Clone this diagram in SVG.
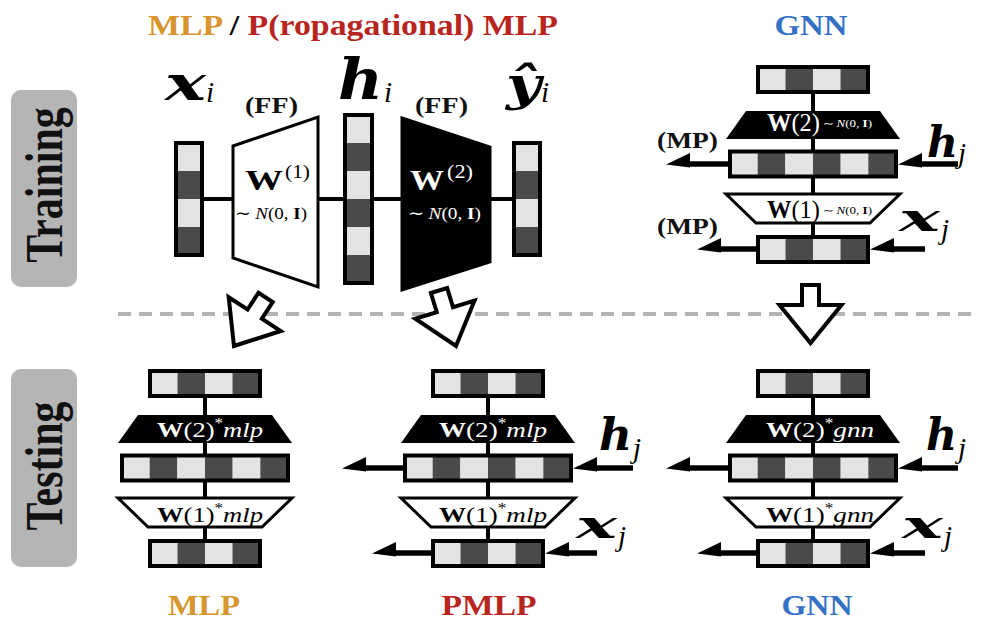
<svg xmlns="http://www.w3.org/2000/svg" width="981" height="620" viewBox="0 0 981 620">
<style>
.ttl{font-family:"Liberation Serif","Times New Roman",serif;font-weight:bold;font-size:29px}
.orange{fill:#D9962F}
.red{fill:#B8241E}
.blue{fill:#3470C4}
.phase{font-family:"Liberation Serif","Times New Roman",serif;font-weight:bold;font-size:42px;fill:#111}
.tag{font-family:"Liberation Serif","Times New Roman",serif;font-weight:bold;font-size:23px;fill:#111}
.mathb{font-family:"DejaVu Serif",serif;font-weight:bold;font-style:italic;fill:#000}
.sub{font-family:"Liberation Serif","Times New Roman",serif;font-style:italic;font-size:29px;fill:#000}
.w{font-family:"Liberation Serif","Times New Roman",serif;fill:#000}
.wt{fill:#fff}
.lt{fill:#E3E3E3}
.dk{fill:#4A4A4A}
.frame{fill:none;stroke:#000;stroke-width:4}
.link{stroke:#000;stroke-width:4;fill:none}
.mp{stroke:#000;stroke-width:5.5;fill:none}
.hollow{fill:#fff;stroke:#000;stroke-width:4;stroke-linejoin:miter}
.box{fill:#B5B5B5}
</style>
<defs>
  <!-- horizontal feature bars -->
  <g id="bar4">
    <rect class="lt" x="-55" y="0" width="27.5" height="25"/>
    <rect class="dk" x="-27.5" y="0" width="27.5" height="25"/>
    <rect class="lt" x="0" y="0" width="27.5" height="25"/>
    <rect class="dk" x="27.5" y="0" width="27.5" height="25"/>
    <rect class="frame" x="-55" y="0" width="110" height="25"/>
  </g>
  <g id="bar6">
    <rect class="lt" x="-83" y="0" width="27.67" height="25"/>
    <rect class="dk" x="-55.33" y="0" width="27.67" height="25"/>
    <rect class="lt" x="-27.67" y="0" width="27.67" height="25"/>
    <rect class="dk" x="0" y="0" width="27.67" height="25"/>
    <rect class="lt" x="27.67" y="0" width="27.67" height="25"/>
    <rect class="dk" x="55.33" y="0" width="27.67" height="25"/>
    <rect class="frame" x="-83" y="0" width="166" height="25"/>
  </g>
  <!-- vertical feature bars -->
  <g id="vbar4">
    <rect class="lt" x="0" y="0" width="26" height="28"/>
    <rect class="dk" x="0" y="28" width="26" height="28"/>
    <rect class="lt" x="0" y="56" width="26" height="28"/>
    <rect class="dk" x="0" y="84" width="26" height="28"/>
    <rect class="frame" x="0" y="0" width="26" height="112"/>
  </g>
  <g id="vbar6">
    <rect class="lt" x="0" y="0" width="27" height="28"/>
    <rect class="dk" x="0" y="28" width="27" height="28"/>
    <rect class="lt" x="0" y="56" width="27" height="28"/>
    <rect class="dk" x="0" y="84" width="27" height="28"/>
    <rect class="lt" x="0" y="112" width="27" height="28"/>
    <rect class="dk" x="0" y="140" width="27" height="28"/>
    <rect class="frame" x="0" y="0" width="27" height="168"/>
  </g>
  <polygon id="trapB" points="-67,46 67,46 87,74 -87,74" fill="#000"/>
  <polygon id="trapW" points="-87,129 87,129 57,158 -57,158" fill="#fff" stroke="#000" stroke-width="3"/>
  <!-- two-layer stack: bar / W(2) / bar / W(1) / bar -->
  <g id="stack">
    <use href="#bar4" y="2"/>
    <use href="#trapB"/>
    <use href="#bar6" y="86.5"/>
    <use href="#trapW"/>
    <use href="#bar4" y="172"/>
  </g>
  <path id="hp" d="M0,0.5 L24,-11 L24,3.5 Z" fill="#000"/>
  <polygon id="hollow" class="hollow" points="-8.5,-58 8.5,-58 8.5,-38 31,-38 0,0 -31,-38 -8.5,-38"/>
</defs>

<rect width="981" height="620" fill="#fff"/>

<!-- phase separator -->
<line x1="118" y1="314" x2="972" y2="314" stroke="#B3B3B3" stroke-width="4" stroke-dasharray="13 8"/>

<!-- phase labels -->
<g id="training-label">
  <rect class="box" x="11" y="90" width="66" height="197" rx="10"/>
  <text class="phase" text-anchor="middle" transform="translate(62,185) scale(1.27,1) rotate(-90)">Training</text>
</g>
<g id="testing-label">
  <rect class="box" x="11" y="369" width="66" height="198" rx="10"/>
  <text class="phase" text-anchor="middle" transform="translate(62,466) scale(1.27,1) rotate(-90)">Testing</text>
</g>

<!-- headings -->
<g id="title-mlp">
  <text class="ttl" x="148" y="35" textLength="410" lengthAdjust="spacingAndGlyphs"><tspan class="orange">MLP</tspan><tspan fill="#000"> / </tspan><tspan class="red">P(ropagational) MLP</tspan></text>
</g>
<g id="title-gnn">
  <text class="ttl blue" x="811" y="35" text-anchor="middle" textLength="73" lengthAdjust="spacingAndGlyphs">GNN</text>
</g>

<!-- connectors -->
<g id="connectors">
  <!-- feed-forward chain -->
  <line class="link" x1="202" y1="199" x2="234" y2="199"/>
  <line class="link" x1="317" y1="199" x2="346" y2="199"/>
  <line class="link" x1="371" y1="199" x2="403" y2="199"/>
  <line class="link" x1="489" y1="199" x2="515" y2="199"/>
  <!-- stack spines -->
  <line class="link" x1="813" y1="85" x2="813" y2="240"/>
  <line class="link" x1="205" y1="389" x2="205" y2="544"/>
  <line class="link" x1="488" y1="389" x2="488" y2="544"/>
  <line class="link" x1="813" y1="389" x2="813" y2="544"/>
  <!-- message passing, GNN training -->
  <line class="mp" x1="728" y1="164" x2="688" y2="164"/><use href="#hp" x="666" y="164"/>
  <line class="mp" x1="958" y1="164" x2="920" y2="164"/><use href="#hp" x="898" y="164"/>
  <line class="mp" x1="756" y1="249" x2="719" y2="249"/><use href="#hp" x="697" y="249"/>
  <line class="mp" x1="925" y1="249" x2="892" y2="249"/><use href="#hp" x="870" y="249"/>
  <!-- message passing, PMLP testing -->
  <line class="mp" x1="403" y1="468" x2="364" y2="468"/><use href="#hp" x="342" y="468"/>
  <line class="mp" x1="633" y1="468" x2="595" y2="468"/><use href="#hp" x="573" y="468"/>
  <line class="mp" x1="431" y1="553" x2="394" y2="553"/><use href="#hp" x="372" y="553"/>
  <line class="mp" x1="597" y1="553" x2="567" y2="553"/><use href="#hp" x="545" y="553"/>
  <!-- message passing, GNN testing -->
  <line class="mp" x1="728" y1="468" x2="688" y2="468"/><use href="#hp" x="666" y="468"/>
  <line class="mp" x1="958" y1="468" x2="920" y2="468"/><use href="#hp" x="898" y="468"/>
  <line class="mp" x1="756" y1="553" x2="719" y2="553"/><use href="#hp" x="697" y="553"/>
  <line class="mp" x1="925" y1="553" x2="892" y2="553"/><use href="#hp" x="870" y="553"/>
  <!-- training to testing -->
  <use href="#hollow" transform="translate(234,346) rotate(33)"/>
  <use href="#hollow" transform="translate(456,346) rotate(-17)"/>
  <use href="#hollow" transform="translate(810.5,343)"/>
</g>

<!-- MLP / PMLP training -->
<g id="x-i">
  <use href="#vbar4" x="176" y="143"/>
  <text class="mathb" x="165" y="100" font-size="48" textLength="41" lengthAdjust="spacingAndGlyphs">x</text>
  <text class="sub" x="206" y="102">i</text>
</g>
<g id="ff-1">
  <polygon points="233,146 318,117 318,287 233,258" fill="#fff" stroke="#000" stroke-width="3"/>
  <text class="tag" x="245" y="113" textLength="53" lengthAdjust="spacingAndGlyphs">(FF)</text>
  <text class="w" x="245" y="190" font-size="29" font-weight="bold" textLength="38" lengthAdjust="spacingAndGlyphs">W</text>
  <text class="w" x="285" y="178" font-size="19" textLength="25" lengthAdjust="spacingAndGlyphs">(1)</text>
  <text class="w" x="235" y="219" font-size="17" textLength="72" lengthAdjust="spacingAndGlyphs">∼ <tspan font-style="italic">N</tspan>(0, <tspan font-weight="bold">I</tspan>)</text>
</g>
<g id="h-i">
  <use href="#vbar6" x="345" y="115"/>
  <text class="mathb" x="338" y="99" font-size="56" textLength="45" lengthAdjust="spacingAndGlyphs">h</text>
  <text class="sub" x="384" y="102">i</text>
</g>
<g id="ff-2">
  <polygon points="402,118 490,147 490,262 402,290" fill="#000" stroke="#000" stroke-width="3"/>
  <text class="tag" x="415" y="113" textLength="53" lengthAdjust="spacingAndGlyphs">(FF)</text>
  <text class="w wt" x="410" y="190" font-size="29" font-weight="bold" textLength="34" lengthAdjust="spacingAndGlyphs">W</text>
  <text class="w wt" x="447" y="178" font-size="19" textLength="26" lengthAdjust="spacingAndGlyphs">(2)</text>
  <text class="w wt" x="408" y="219" font-size="17" textLength="73" lengthAdjust="spacingAndGlyphs">∼ <tspan font-style="italic">N</tspan>(0, <tspan font-weight="bold">I</tspan>)</text>
</g>
<g id="y-i">
  <use href="#vbar4" x="514" y="143"/>
  <text class="mathb" x="506" y="100" font-size="46" textLength="35" lengthAdjust="spacingAndGlyphs">ŷ</text>
  <text class="sub" x="541" y="102">i</text>
</g>

<!-- GNN training -->
<g id="gnn-train">
  <use href="#stack" x="813" y="65"/>
  <text class="w wt" x="767" y="131" font-size="26" textLength="53" lengthAdjust="spacingAndGlyphs"><tspan font-weight="bold">W</tspan>(2)</text>
  <text class="w wt" x="823" y="127" font-size="10" textLength="49" lengthAdjust="spacingAndGlyphs">∼ <tspan font-style="italic">N</tspan>(0, <tspan font-weight="bold">I</tspan>)</text>
  <text class="w" x="767" y="218" font-size="26" textLength="53" lengthAdjust="spacingAndGlyphs"><tspan font-weight="bold">W</tspan>(1)</text>
  <text class="w" x="823" y="214" font-size="10" textLength="49" lengthAdjust="spacingAndGlyphs">∼ <tspan font-style="italic">N</tspan>(0, <tspan font-weight="bold">I</tspan>)</text>
  <text class="tag" x="657" y="148" textLength="61" lengthAdjust="spacingAndGlyphs">(MP)</text>
  <text class="tag" x="657" y="234" textLength="61" lengthAdjust="spacingAndGlyphs">(MP)</text>
  <text class="mathb" x="927" y="157" font-size="42" textLength="31" lengthAdjust="spacingAndGlyphs">h</text>
  <text class="sub" x="958" y="163" font-size="24">j</text>
  <text class="mathb" x="899" y="231" font-size="40" textLength="41" lengthAdjust="spacingAndGlyphs">x</text>
  <text class="sub" x="941" y="239" font-size="24">j</text>
</g>

<!-- testing: MLP -->
<g id="mlp-test">
  <use href="#stack" x="205" y="369"/>
  <text class="w wt" x="157" y="437" font-size="22" textLength="106" lengthAdjust="spacingAndGlyphs"><tspan font-weight="bold">W</tspan>(2)<tspan font-size="14" dy="-9">*</tspan><tspan font-style="italic" dy="9">mlp</tspan></text>
  <text class="w" x="157" y="522" font-size="22" textLength="106" lengthAdjust="spacingAndGlyphs"><tspan font-weight="bold">W</tspan>(1)<tspan font-size="14" dy="-9">*</tspan><tspan font-style="italic" dy="9">mlp</tspan></text>
  <text class="ttl orange" x="204" y="615" font-size="31" text-anchor="middle" textLength="72" lengthAdjust="spacingAndGlyphs">MLP</text>
</g>

<!-- testing: PMLP -->
<g id="pmlp-test">
  <use href="#stack" x="488" y="369"/>
  <text class="w wt" x="439" y="437" font-size="22" textLength="108" lengthAdjust="spacingAndGlyphs"><tspan font-weight="bold">W</tspan>(2)<tspan font-size="14" dy="-9">*</tspan><tspan font-style="italic" dy="9">mlp</tspan></text>
  <text class="w" x="439" y="522" font-size="22" textLength="108" lengthAdjust="spacingAndGlyphs"><tspan font-weight="bold">W</tspan>(1)<tspan font-size="14" dy="-9">*</tspan><tspan font-style="italic" dy="9">mlp</tspan></text>
  <text class="mathb" x="599" y="450" font-size="44" textLength="33" lengthAdjust="spacingAndGlyphs">h</text>
  <text class="sub" x="633" y="458" font-size="24">j</text>
  <text class="mathb" x="576" y="538" font-size="40" textLength="41" lengthAdjust="spacingAndGlyphs">x</text>
  <text class="sub" x="618" y="546" font-size="24">j</text>
  <text class="ttl red" x="489" y="615" font-size="31" text-anchor="middle" textLength="95" lengthAdjust="spacingAndGlyphs">PMLP</text>
</g>

<!-- testing: GNN -->
<g id="gnn-test">
  <use href="#stack" x="813" y="369"/>
  <text class="w wt" x="766" y="437" font-size="22" textLength="108" lengthAdjust="spacingAndGlyphs"><tspan font-weight="bold">W</tspan>(2)<tspan font-size="14" dy="-9">*</tspan><tspan font-style="italic" dy="9">gnn</tspan></text>
  <text class="w" x="766" y="522" font-size="22" textLength="108" lengthAdjust="spacingAndGlyphs"><tspan font-weight="bold">W</tspan>(1)<tspan font-size="14" dy="-9">*</tspan><tspan font-style="italic" dy="9">gnn</tspan></text>
  <text class="mathb" x="926" y="450" font-size="44" textLength="31" lengthAdjust="spacingAndGlyphs">h</text>
  <text class="sub" x="958" y="458" font-size="24">j</text>
  <text class="mathb" x="902" y="538" font-size="40" textLength="41" lengthAdjust="spacingAndGlyphs">x</text>
  <text class="sub" x="944" y="546" font-size="24">j</text>
  <text class="ttl blue" x="817" y="615" font-size="31" text-anchor="middle" textLength="71" lengthAdjust="spacingAndGlyphs">GNN</text>
</g>
</svg>
